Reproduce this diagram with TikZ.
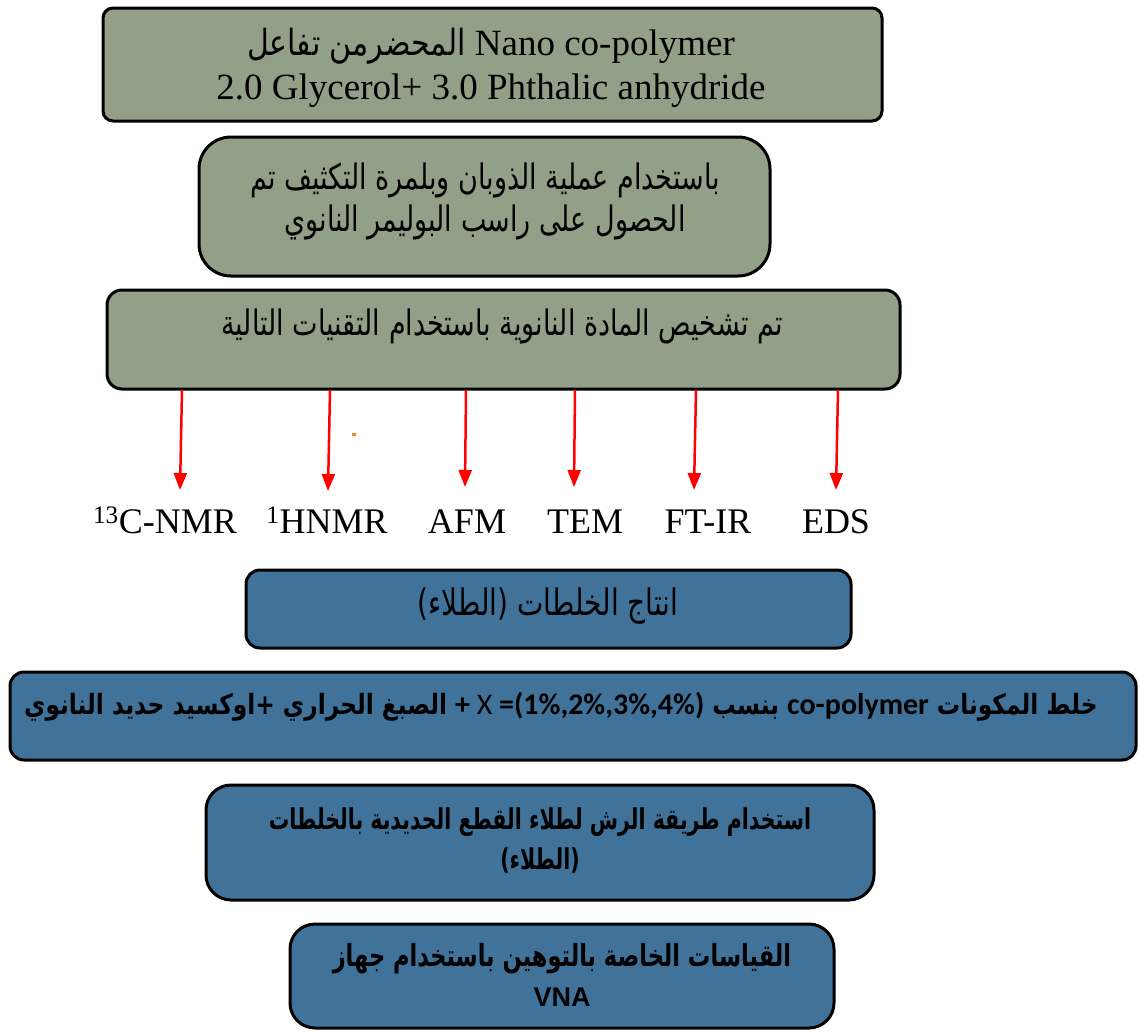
\documentclass[tikz,border=0pt]{standalone}
\usepackage{fontspec}
\usepackage{graphicx}
\usetikzlibrary{arrows.meta}
\setmainfont{Liberation Serif}
\newfontfamily\arfont[Script=Arabic]{DejaVu Sans}
\newfontfamily\arialf{Liberation Sans}
\newfontfamily\calibf{Carlito}
\TeXXeTstate=1
\definecolor{boxolive}{RGB}{147,160,136}
\definecolor{boxblue}{RGB}{65,114,154}
\definecolor{dotorange}{RGB}{240,140,40}
\newcommand{\vs}[2]{\scalebox{1}[#1]{#2}}
\begin{document}
\begin{tikzpicture}[x=1pt,y=-1pt,
  box/.style={draw=black, line width=3pt, inner sep=0pt},
  obox/.style={box, fill=boxolive},
  bbox/.style={box, fill=boxblue},
  txt/.style={inner sep=0pt, align=center},
  arr/.style={draw=red, line width=2.5pt, -{Triangle[length=17pt,width=13pt]}},
  lab/.style={inner sep=0pt, anchor=base, font=\fontsize{36}{40}\selectfont}]
\useasboundingbox (0,0) rectangle (1139,1031);

% boxes
\node[obox, rounded corners=10pt, minimum width=779pt, minimum height=113pt] (b1) at (492.5,64.5) {};
\node[obox, rounded corners=32pt, minimum width=571pt, minimum height=139pt] (b2) at (484.5,206.5) {};
\node[obox, rounded corners=15pt, minimum width=793pt, minimum height=99pt] (b3) at (503.5,339.5) {};
\node[bbox, rounded corners=14pt, minimum width=605pt, minimum height=78pt] (b4) at (548.5,609) {};
\node[bbox, rounded corners=14pt, minimum width=1126pt, minimum height=88pt] (b5) at (573,716) {};
\node[bbox, rounded corners=25pt, minimum width=668pt, minimum height=115pt] (b6) at (540,842.5) {};
\node[bbox, rounded corners=25pt, minimum width=544pt, minimum height=104pt] (b7) at (562,976) {};

% texts
\node[txt, font=\fontsize{37}{44}\selectfont] (t1) at (491,68)
  {{\arfont\fontsize{30}{44}\selectfont\vs{1.2}{\beginR المحضرمن تفاعل\endR}}\ Nano co-polymer\\2.0 Glycerol+ 3.0 Phthalic anhydride};
\node[txt, font=\arfont\fontsize{27}{42}\selectfont] (t2) at (485,201)
  {\vs{1.3}{\beginR باستخدام عملية الذوبان وبلمرة التكثيف تم\endR}\\\vs{1.3}{\beginR الحصول على راسب البوليمر النانوي\endR}};
\node[txt, font=\arfont\fontsize{27}{34}\selectfont] (t3) at (502,326)
  {\vs{1.3}{\beginR تم تشخيص المادة النانوية باستخدام التقنيات التالية\endR}};
\node[txt, font=\arfont\fontsize{28}{34}\selectfont] (t4) at (548,606)
  {\vs{1.3}{\beginR انتاج الخلطات (الطلاء)\endR}};
\node[txt, font=\arfont\bfseries\fontsize{23.3}{30}\selectfont] (t5) at (561,707)
  {\vs{1.2}{\beginR الصبغ الحراري +\kern0ptاوكسيد حديد النانوي\endR}\ {\calibf\fontsize{30}{30}\selectfont + {\mdseries X} =(1\%,2\%,3\%,4\%)}\ \vs{1.2}{\beginR بنسب\endR}\ {\calibf\fontsize{30}{30}\selectfont co-polymer}\ \vs{1.2}{\beginR خلط المكونات\endR}};
\node[txt, font=\arfont\bfseries\fontsize{20.5}{40}\selectfont] (t6) at (540,840)
  {\vs{1.4}{\beginR استخدام طريقة الرش لطلاء القطع الحديدية بالخلطات\endR}\\\vs{1.4}{\beginR(الطلاء)\endR}};
\node[txt, font=\arfont\bfseries\fontsize{22.5}{40}\selectfont] (t7) at (562,975)
  {\vs{1.35}{\beginR القياسات الخاصة بالتوهين باستخدام جهاز\endR}\\{\arialf\bfseries\fontsize{27}{40}\selectfont VNA}};

% labels
\node[lab] (l1) at (165,533) {\textsuperscript{13}C-NMR};
\node[lab] (l2) at (327,533) {\textsuperscript{1}HNMR};
\node[lab] (l3) at (467,533) {AFM};
\node[lab] (l4) at (585,533) {TEM};
\node[lab] (l5) at (708,533) {FT-IR};
\node[lab] (l6) at (836,533) {EDS};

% arrows
\coordinate (s1) at (182,390); \coordinate (e1) at (180,490);
\coordinate (s2) at (330,390); \coordinate (e2) at (328,491);
\coordinate (s3) at (466,390); \coordinate (e3) at (465,487);
\coordinate (s4) at (575,390); \coordinate (e4) at (574,487);
\coordinate (s5) at (696,390); \coordinate (e5) at (694,490);
\coordinate (s6) at (838,390); \coordinate (e6) at (836,490);
\foreach \i in {1,...,6} {\draw[arr] (s\i) -- (e\i);}

% small orange dot
\fill[dotorange] (352,433) rectangle (356,436);
\end{tikzpicture}
\end{document}
